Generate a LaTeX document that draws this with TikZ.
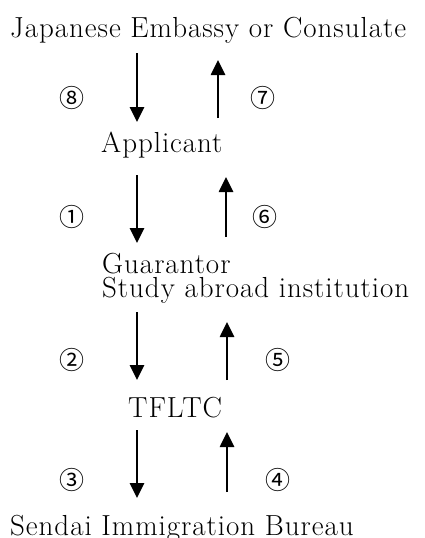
\documentclass[tikz,border=0pt]{standalone}
\usepackage{fontspec}
\newfontfamily\circfont{Noto Sans CJK JP}
\newfontfamily\placefont{Latin Modern Roman}[LetterSpace=3.3]
\usetikzlibrary{arrows.meta}

\begin{document}
\begin{tikzpicture}[
    x=1pt, y=-1pt,
    label/.style={anchor=base west, inner sep=0pt, font=\placefont\fontsize{29}{29}\selectfont},
    num/.style={inner sep=0pt, font=\circfont\fontsize{25}{25}\selectfont},
    flow/.style={line width=2.6pt, -{Triangle[width=14pt,length=15pt]}}
]
    \useasboundingbox (0,0) rectangle (425,538);

    % Places
    \node[label] (emb) at (10,37) {Japanese Embassy or Consulate};
    \node[label] (appl) at (101,152) {Applicant};
    \node[label] (guar) at (102,273) {Guarantor};
    \node[label] (study) at (102,297) {Study abroad institution};
    \node[label] (tfltc) at (128,417) {TFLTC};
    \node[label] (sendai) at (10,535) {Sendai Immigration Bureau};

    % Arrow ends
    \coordinate (d8a) at (137,53);  \coordinate (d8b) at (137,122);
    \coordinate (u7a) at (218,118); \coordinate (u7b) at (218,60);
    \coordinate (d1a) at (137,175); \coordinate (d1b) at (137,243);
    \coordinate (u6a) at (226,237); \coordinate (u6b) at (226,177);
    \coordinate (d2a) at (137,312); \coordinate (d2b) at (137,380);
    \coordinate (u5a) at (227,380); \coordinate (u5b) at (227,322);
    \coordinate (d3a) at (137,430); \coordinate (d3b) at (137,498);
    \coordinate (u4a) at (227,492); \coordinate (u4b) at (227,432);

    % Steps
    \draw[flow] (d8a) -- (d8b);
    \draw[flow] (u7a) -- (u7b);
    \draw[flow] (d1a) -- (d1b);
    \draw[flow] (u6a) -- (u6b);
    \draw[flow] (d2a) -- (d2b);
    \draw[flow] (u5a) -- (u5b);
    \draw[flow] (d3a) -- (d3b);
    \draw[flow] (u4a) -- (u4b);

    % Step numbers
    \node[num] (n8) at (72,98) {⑧};
    \node[num] (n7) at (263,98) {⑦};
    \node[num] (n1) at (72,217) {①};
    \node[num] (n6) at (265,217) {⑥};
    \node[num] (n2) at (72,360) {②};
    \node[num] (n5) at (278,360) {⑤};
    \node[num] (n3) at (72,480) {③};
    \node[num] (n4) at (278,480) {④};
\end{tikzpicture}
\end{document}
